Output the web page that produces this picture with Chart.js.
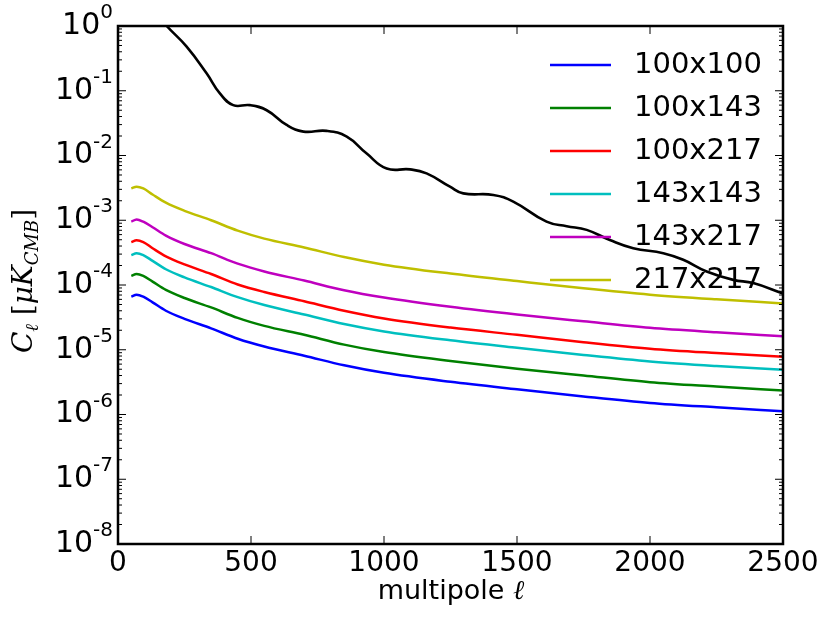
<!DOCTYPE html>
<html>
<head>
<meta charset="utf-8">
<script src="https://cdn.jsdelivr.net/npm/chart.js@4/dist/chart.umd.min.js"></script>
<style>
  html, body { margin: 0; padding: 0; background: #fff; }
  #wrap { width: 830px; height: 621px; position: relative; }
</style>
</head>
<body>
<div id="wrap"><canvas id="clChart"></canvas></div>
<script>
// multipoles for the noise spectra
const ell = [50, 70, 95, 130, 180, 250, 350, 450, 550, 700, 850, 1000, 1250, 1500, 1750, 2000, 2250, 2500];

const cl100x100 = [6.6e-5, 7.1e-5, 6.6e-5, 5.4e-5, 4.0e-5, 3.0e-5, 2.14e-5, 1.48e-5, 1.12e-5, 8.1e-6, 5.75e-6, 4.4e-6, 3.2e-6, 2.45e-6, 1.9e-6, 1.51e-6, 1.29e-6, 1.12e-6];
const cl100x143 = [1.38e-4, 1.48e-4, 1.38e-4, 1.13e-4, 8.4e-5, 6.3e-5, 4.5e-5, 3.1e-5, 2.34e-5, 1.7e-5, 1.2e-5, 9.2e-6, 6.7e-6, 5.1e-6, 4.0e-6, 3.16e-6, 2.7e-6, 2.34e-6];
const cl100x217 = [4.6e-4, 4.9e-4, 4.6e-4, 3.7e-4, 2.77e-4, 2.08e-4, 1.48e-4, 1.02e-4, 7.8e-5, 5.6e-5, 4.0e-5, 3.04e-5, 2.2e-5, 1.7e-5, 1.31e-5, 1.04e-5, 8.9e-6, 7.8e-6];
const cl143x143 = [2.9e-4, 3.1e-4, 2.9e-4, 2.36e-4, 1.75e-4, 1.31e-4, 9.3e-5, 6.5e-5, 4.9e-5, 3.5e-5, 2.5e-5, 1.92e-5, 1.4e-5, 1.07e-5, 8.3e-6, 6.6e-6, 5.6e-6, 4.9e-6];
const cl143x217 = [9.5e-4, 1.03e-3, 9.5e-4, 7.8e-4, 5.8e-4, 4.3e-4, 3.1e-4, 2.14e-4, 1.62e-4, 1.17e-4, 8.3e-5, 6.4e-5, 4.6e-5, 3.5e-5, 2.75e-5, 2.18e-5, 1.86e-5, 1.62e-5];
const cl217x217 = [3.1e-3, 3.3e-3, 3.1e-3, 2.5e-3, 1.87e-3, 1.4e-3, 1.0e-3, 6.9e-4, 5.2e-4, 3.8e-4, 2.7e-4, 2.06e-4, 1.5e-4, 1.15e-4, 8.9e-5, 7.1e-5, 6.0e-5, 5.2e-5];

// CMB signal spectrum (black)
const ellCMB = [100, 183, 258, 333, 383, 433, 496, 559, 634, 697, 784, 860, 935, 1010, 1098, 1160, 1248, 1298, 1411, 1486, 1611, 1687, 1762, 1849, 1937, 2050, 2125, 2213, 2313, 2388, 2500];
const clCMB = [2.5, 1.0, 0.48, 0.186, 0.091, 0.060, 0.060, 0.050, 0.0296, 0.0234, 0.024, 0.0195, 0.0107, 0.0063, 0.0061, 0.0053, 0.0033, 0.0026, 0.00246, 0.00194, 0.00095, 0.00081, 0.00071, 0.000495, 0.00037, 0.00031, 0.000245, 0.000162, 0.00012, 0.000107, 0.000074];

const seriesNames = ["100x100", "100x143", "100x217", "143x143", "143x217", "217x217"];
const seriesValues = [cl100x100, cl100x143, cl100x217, cl143x143, cl143x217, cl217x217];
const seriesColors = ["#0000ff", "#008000", "#ff0000", "#00bfbf", "#bf00bf", "#bfbf00"];

const xTickValues = [0, 500, 1000, 1500, 2000, 2500];
const yExponents = [-8, -7, -6, -5, -4, -3, -2, -1, 0];

const SANS = "'DejaVu Sans', sans-serif";
const SERIF = "'DejaVu Serif', serif";

function toPoints(xs, ys) {
  return xs.map((x, i) => ({ x: x, y: ys[i] }));
}

const datasets = seriesNames.map((name, i) => ({
  label: name,
  data: toPoints(ell, seriesValues[i]),
  borderColor: seriesColors[i],
  borderWidth: 2.5,
  pointRadius: 0,
  fill: false,
  cubicInterpolationMode: "monotone"
}));
datasets.push({
  label: "CMB",
  data: toPoints(ellCMB, clCMB),
  borderColor: "#000000",
  borderWidth: 2.6,
  pointRadius: 0,
  fill: false,
  tension: 0.45
});

// draws matplotlib style frame, inward ticks, y labels, axis titles and legend
const decorations = {
  id: "decorations",
  afterDatasetsDraw(chart) {
    const ctx = chart.ctx;
    const area = chart.chartArea;
    const xs = chart.scales.x;
    const ys = chart.scales.y;
    ctx.save();
    ctx.strokeStyle = "#000";
    ctx.fillStyle = "#000";

    // ticks pointing inward
    ctx.lineWidth = 1;
    ctx.beginPath();
    xTickValues.forEach(v => {
      const px = xs.getPixelForValue(v);
      ctx.moveTo(px, area.bottom); ctx.lineTo(px, area.bottom - 8);
      ctx.moveTo(px, area.top); ctx.lineTo(px, area.top + 8);
    });
    yExponents.forEach(e => {
      for (let m = 1; m <= 9; m++) {
        const v = m * Math.pow(10, e);
        if (v > 1.0001) continue;
        const py = ys.getPixelForValue(v);
        const len = m === 1 ? 8 : 4;
        ctx.moveTo(area.left, py); ctx.lineTo(area.left + len, py);
        ctx.moveTo(area.right, py); ctx.lineTo(area.right - len, py);
      }
    });
    ctx.stroke();

    // frame
    ctx.lineWidth = 2.5;
    ctx.strokeRect(area.left, area.top, area.right - area.left, area.bottom - area.top);

    // y tick labels 10^n
    ctx.textBaseline = "middle";
    yExponents.forEach(e => {
      const py = ys.getPixelForValue(Math.pow(10, e));
      const sup = String(e);
      ctx.font = "20px " + SANS;
      const w = ctx.measureText(sup).width;
      ctx.textAlign = "right";
      ctx.fillText(sup, 113, py - 13);
      ctx.font = "30px " + SANS;
      ctx.fillText("10", 113 - w, py);
    });

    // x title
    ctx.textAlign = "left";
    ctx.textBaseline = "alphabetic";
    ctx.font = "27px " + SANS;
    const t1 = "multipole ";
    const w1 = ctx.measureText(t1).width;
    ctx.font = "italic 27px " + SERIF;
    const w2 = ctx.measureText("ℓ").width;
    let x0 = 451 - (w1 + w2) / 2;
    ctx.font = "27px " + SANS;
    ctx.fillText(t1, x0, 599);
    ctx.font = "italic 27px " + SERIF;
    ctx.fillText("ℓ", x0 + w1, 599);

    // y title C_l [uK_CMB]
    const parts = [
      { t: "C", f: "italic 28px " + SERIF, dy: 0 },
      { t: "ℓ", f: "italic 18px " + SERIF, dy: 6 },
      { t: " [", f: "28px " + SERIF, dy: 0 },
      { t: "μK", f: "italic 28px " + SERIF, dy: 0 },
      { t: "CMB", f: "italic 18px " + SERIF, dy: 6 },
      { t: "]", f: "28px " + SERIF, dy: 0 }
    ];
    let total = 0;
    parts.forEach(p => { ctx.font = p.f; p.w = ctx.measureText(p.t).width; total += p.w; });
    ctx.translate(32, 281);
    ctx.rotate(-Math.PI / 2);
    let cx = -total / 2;
    parts.forEach(p => {
      ctx.font = p.f;
      ctx.fillText(p.t, cx, p.dy);
      cx += p.w;
    });
    ctx.restore();

    // legend
    ctx.save();
    ctx.textAlign = "left";
    ctx.textBaseline = "middle";
    ctx.font = "29px " + SANS;
    seriesNames.forEach((name, i) => {
      const ly = 65 + i * 43;
      ctx.strokeStyle = seriesColors[i];
      ctx.lineWidth = 2.5;
      ctx.beginPath();
      ctx.moveTo(550, ly); ctx.lineTo(611, ly);
      ctx.stroke();
      ctx.fillStyle = "#000";
      ctx.fillText(name, 634, ly);
    });
    ctx.restore();
  }
};

new Chart(document.getElementById("clChart"), {
  type: "line",
  data: { datasets: datasets },
  options: {
    responsive: true,
    maintainAspectRatio: false,
    animation: false,
    layout: { padding: { top: 26, right: 47, left: 0, bottom: 0 } },
    plugins: {
      legend: { display: false },
      tooltip: { enabled: false }
    },
    scales: {
      x: {
        type: "linear",
        min: 0,
        max: 2500,
        grid: { display: false, drawTicks: false },
        border: { display: false },
        ticks: {
          stepSize: 500,
          padding: 3,
          color: "#000",
          maxRotation: 0,
          font: { family: "DejaVu Sans", size: 28 },
          callback: v => String(v)
        },
        afterFit(scale) { scale.height = 77; }
      },
      y: {
        type: "logarithmic",
        min: 1e-8,
        max: 1,
        grid: { display: false, drawTicks: false },
        border: { display: false },
        ticks: { display: false },
        afterFit(scale) { scale.width = 118; }
      }
    }
  },
  plugins: [decorations]
});
</script>
</body>
</html>
